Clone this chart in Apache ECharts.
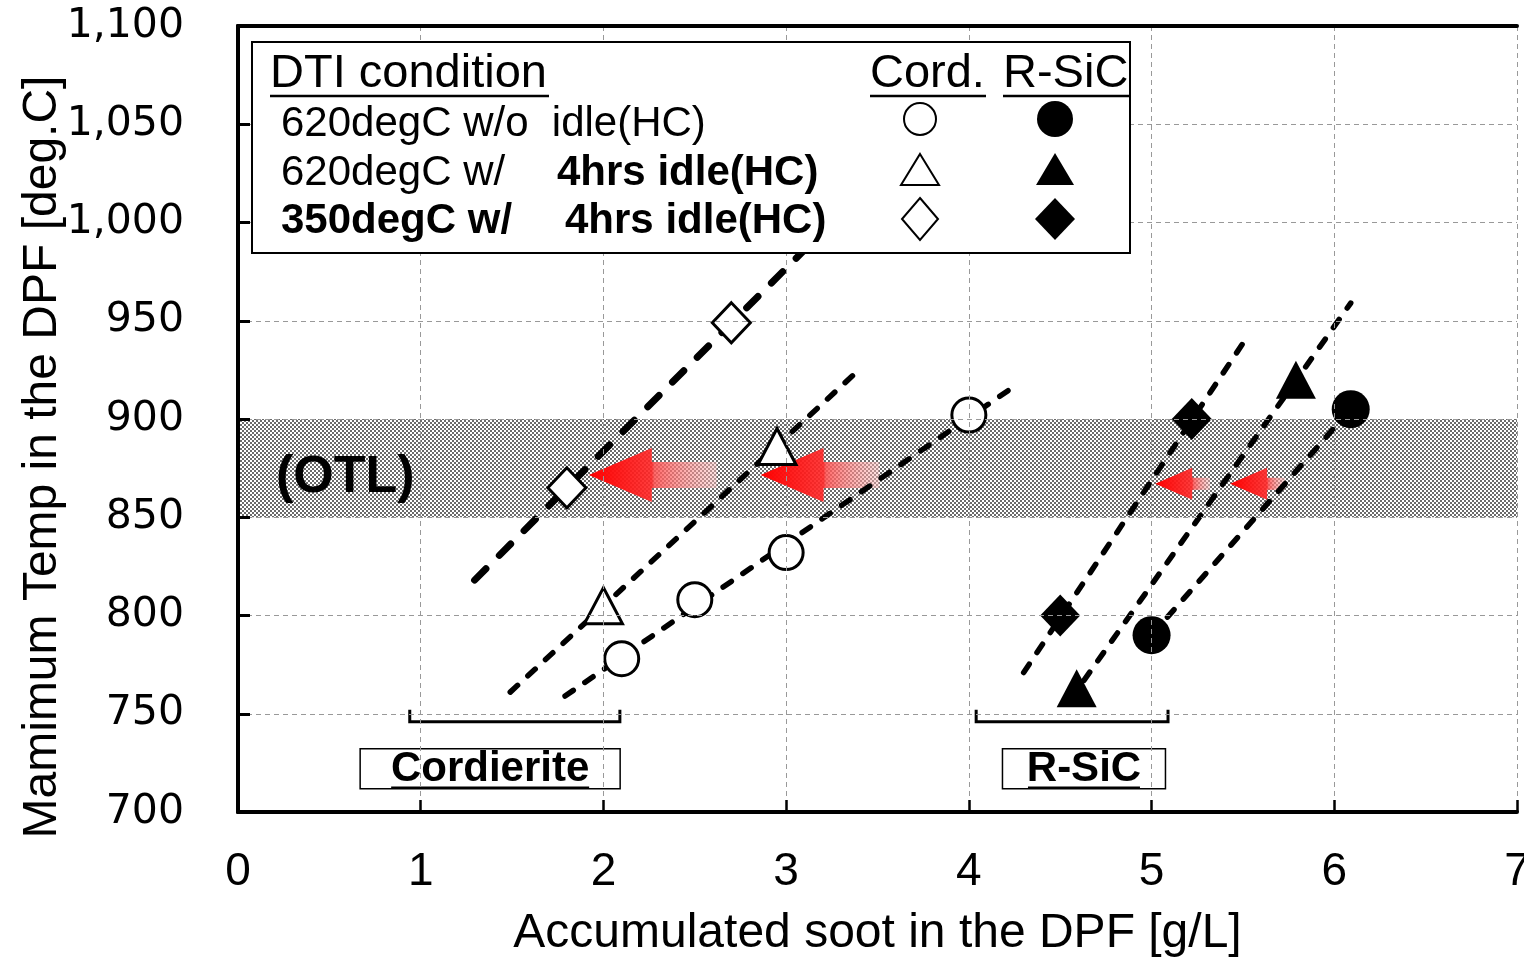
<!DOCTYPE html>
<html>
<head>
<meta charset="utf-8">
<title>Maximum DPF temperature vs accumulated soot</title>
<script src="https://cdn.jsdelivr.net/npm/echarts@6.0.0/dist/echarts.min.js"></script>
<style>
  html, body { margin: 0; padding: 0; background: #fff; overflow: hidden; }
  #chart { width: 1524px; height: 957px; }
</style>
</head>
<body>
<div id="chart"></div>
<script>
// measured points [soot g/L, max temp degC]
const cordCircle = [[2.1, 778], [2.5, 808], [3.0, 832], [4.0, 902]]
const cordTriangle = [[2.0, 805], [2.95, 886]]
const cordDiamond = [[1.8, 865], [2.7, 949]]
const sicCircle = [[5.0, 790], [6.09, 905]]
const sicTriangle = [[4.59, 763], [5.79, 920]]
const sicDiamond = [[4.5, 800], [5.22, 900]]

// dashed trend lines (end points)
const cordCircleFit = [[1.79, 759], [4.27, 918]]
const cordTriangleFit = [[1.49, 761], [3.41, 926]]
const cordDiamondFit = [[1.295, 818], [3.25, 1000]]
const sicCircleFit = [[5.0, 790], [6.09, 905]]
const sicTriangleFit = [[4.63, 767], [6.09, 959]]
const sicDiamondFit = [[4.3, 771], [5.525, 942]]

// OTL band
const otlBand = [850, 900]

// red arrows [tip x, temp, tail x]
const bigArrows = [[1.92, 871.5, 2.62], [2.86, 871.5, 3.51]]
const smallArrows = [[5.02, 867, 5.32], [5.43, 867, 5.73]]

// material groups under the curves
const groupNames = ['Cordierite', 'R-SiC']
const groupSpans = [[0.94, 2.09], [4.04, 5.09]]
const groupCenters = [1.38, 4.63]
const groupLevel = 750

const FONT = 'Liberation Sans, Arial, sans-serif'

// dotted screen for the OTL band
const tile = document.createElement('canvas')
tile.width = 4
tile.height = 4
const tg = tile.getContext('2d')
tg.fillStyle = '#ffffff'
tg.fillRect(0, 0, 4, 4)
tg.fillStyle = '#6a6a6a'
tg.fillRect(0, 0, 2, 2)
tg.fillRect(2, 2, 2, 2)

const myChart = echarts.init(document.getElementById('chart'))

function fitLine(name, data, width, dash) {
  return {
    name: name,
    type: 'line',
    data: data,
    symbol: 'none',
    silent: true,
    z: 3,
    lineStyle: { color: '#000', width: width, type: dash, cap: 'round' }
  }
}

function marks(name, data, symbol, size, filled) {
  return {
    name: name,
    type: 'scatter',
    data: data,
    symbol: symbol,
    symbolSize: size,
    z: 4,
    itemStyle: filled
      ? { color: '#000', opacity: 1 }
      : { color: '#fff', borderColor: '#000', borderWidth: 3, opacity: 1 }
  }
}

function arrows(name, data, head, headHalf, shaftHalf) {
  return {
    name: name,
    type: 'custom',
    data: data,
    silent: true,
    z: 2,
    renderItem: function (params, api) {
      const tip = api.coord([api.value(0), api.value(1)])
      const tail = api.coord([api.value(2), api.value(1)])
      const hx = tip[0] + head
      const y = tip[1]
      const f = head / (tail[0] - tip[0])
      return {
        type: 'polygon',
        shape: {
          points: [
            [tip[0], y], [hx, y - headHalf], [hx, y - shaftHalf], [tail[0], y - shaftHalf],
            [tail[0], y + shaftHalf], [hx, y + shaftHalf], [hx, y + headHalf]
          ]
        },
        style: {
          fill: new echarts.graphic.LinearGradient(0, 0, 1, 0, [
            { offset: 0, color: 'rgba(255,0,0,1)' },
            { offset: f, color: 'rgba(255,40,40,0.9)' },
            { offset: f + 0.02, color: 'rgba(255,80,80,0.85)' },
            { offset: 1, color: 'rgba(255,190,190,0.45)' }
          ])
        }
      }
    }
  }
}

const boxWidth = { 'Cordierite': 260, 'R-SiC': 163 }
const textWidth = { 'Cordierite': 198, 'R-SiC': 112 }

// legend (drawn on top of the plot)
function legendItems() {
  const t = (x, y, text, bold, size) => ({
    type: 'text',
    z: 101,
    style: { x: x, y: y, text: text, font: (bold ? 'bold ' : '') + size + 'px ' + FONT, fill: '#000', verticalAlign: 'middle' }
  })
  const u = (x1, x2) => ({ type: 'line', z: 101, shape: { x1: x1, y1: 96, x2: x2, y2: 96 }, style: { stroke: '#000', lineWidth: 2.5 } })
  const open = { fill: '#fff', stroke: '#000', lineWidth: 2 }
  const full = { fill: '#000' }
  return [
    { type: 'rect', z: 100, shape: { x: 252, y: 42, width: 878, height: 211 }, style: { fill: '#fff', stroke: '#000', lineWidth: 2 } },
    t(270, 74, 'DTI condition', false, 47),
    t(870, 74, 'Cord.', false, 47),
    t(1003, 74, 'R-SiC', false, 47),
    u(270, 549), u(870, 986), u(1003, 1129),
    t(281, 124, '620degC w/o  idle(HC)', false, 42),
    t(281, 173, '620degC w/', false, 42),
    t(557, 173, '4hrs idle(HC)', true, 42),
    t(281, 221, '350degC w/', true, 42),
    t(565, 221, '4hrs idle(HC)', true, 42),
    { type: 'circle', z: 101, shape: { cx: 920, cy: 119, r: 16 }, style: open },
    { type: 'circle', z: 101, shape: { cx: 1055, cy: 119, r: 18 }, style: full },
    { type: 'polygon', z: 101, shape: { points: [[920, 154], [939, 185], [901, 185]] }, style: open },
    { type: 'polygon', z: 101, shape: { points: [[1055, 153], [1074, 185], [1036, 185]] }, style: full },
    { type: 'polygon', z: 101, shape: { points: [[920, 198], [938, 219], [920, 240], [902, 219]] }, style: open },
    { type: 'polygon', z: 101, shape: { points: [[1055, 198], [1075, 219], [1055, 240], [1035, 219]] }, style: full }
  ]
}

var option = {
  animation: false,
  backgroundColor: '#fff',
  grid: { left: 238, right: 7, top: 26, bottom: 145, outerBoundsMode: 'none' },
  xAxis: [
    {
      type: 'value',
      min: 0,
      max: 7,
      interval: 1,
      z: 10,
      name: 'Accumulated soot in the DPF [g/L]',
      nameLocation: 'middle',
      nameGap: 98,
      nameTextStyle: { fontFamily: FONT, fontSize: 48, color: '#000' },
      axisLine: { lineStyle: { color: '#000', width: 4 } },
      axisTick: { inside: true, length: 12, lineStyle: { color: '#000', width: 2.5 } },
      axisLabel: { margin: 37, fontFamily: FONT, fontSize: 46, color: '#000' },
      splitLine: { lineStyle: { color: '#999', width: 1, type: [5, 4] } }
    },
    {
      type: 'value', position: 'top', min: 0, max: 7, z: 10,
      axisLine: { lineStyle: { color: '#000', width: 4 } },
      axisTick: { show: false }, axisLabel: { show: false }, splitLine: { show: false }
    }
  ],
  yAxis: [
    {
      type: 'value',
      min: 700,
      max: 1100,
      interval: 50,
      z: 10,
      axisLine: { show: true, lineStyle: { color: '#000', width: 4 } },
      axisTick: { show: true, inside: true, length: 12, lineStyle: { color: '#000', width: 3 } },
      axisLabel: {
        margin: 54,
        fontFamily: 'DejaVu Sans, sans-serif',
        fontSize: 41,
        color: '#000',
        formatter: function (v) { return v.toLocaleString('en-US') }
      },
      splitLine: { lineStyle: { color: '#999', width: 1, type: [5, 4] } }
    },
    {
      type: 'value', position: 'right', min: 700, max: 1100, z: 10,
      axisLine: { show: true, lineStyle: { color: '#000', width: 4 } },
      axisTick: { show: false }, axisLabel: { show: false }, splitLine: { show: false }
    }
  ],
  series: [
    {
      name: 'OTL',
      type: 'line',
      data: [],
      z: 1,
      markArea: {
        silent: true,
        itemStyle: { color: { image: tile, repeat: 'repeat' } },
        label: {
          show: true,
          position: 'insideLeft',
          distance: 38,
          offset: [0, 10],
          formatter: '(OTL)',
          fontFamily: FONT,
          fontWeight: 'bold',
          fontSize: 52,
          color: '#000'
        },
        data: [[{ yAxis: otlBand[0] }, { yAxis: otlBand[1] }]]
      }
    },
    arrows('arrows-cord', bigArrows, 63, 27, 13),
    arrows('arrows-sic', smallArrows, 37, 16, 6),
    fitLine('fit-cord-circle', cordCircleFit, 5.5, [10, 14]),
    fitLine('fit-cord-triangle', cordTriangleFit, 5.5, [10, 14]),
    fitLine('fit-cord-diamond', cordDiamondFit, 7, [16, 19]),
    fitLine('fit-sic-circle', sicCircleFit, 5.5, [10, 14]),
    fitLine('fit-sic-triangle', sicTriangleFit, 5.5, [10, 14]),
    fitLine('fit-sic-diamond', sicDiamondFit, 5.5, [10, 14]),
    marks('Cord. 620degC w/o idle', cordCircle, 'circle', 34, false),
    marks('Cord. 620degC w/ 4hrs idle', cordTriangle, 'triangle', [38, 36], false),
    marks('Cord. 350degC w/ 4hrs idle', cordDiamond, 'diamond', [38, 40], false),
    marks('R-SiC 620degC w/o idle', sicCircle, 'circle', 38, true),
    marks('R-SiC 620degC w/ 4hrs idle', sicTriangle, 'triangle', [40, 38], true),
    marks('R-SiC 350degC w/ 4hrs idle', sicDiamond, 'diamond', [40, 42], true),
    {
      name: 'groups',
      type: 'custom',
      silent: true,
      z: 5,
      data: groupNames.map((n, i) => [groupSpans[i][0], groupSpans[i][1], groupCenters[i], groupLevel]),
      renderItem: function (params, api) {
        const label = groupNames[params.dataIndex]
        const a = api.coord([api.value(0), api.value(3)])
        const b = api.coord([api.value(1), api.value(3)])
        const c = api.coord([api.value(2), api.value(3)])
        const w = boxWidth[label]
        const tw = textWidth[label]
        const boxTop = a[1] + 35
        return {
          type: 'group',
          children: [
            {
              type: 'polyline',
              shape: { points: [[a[0], a[1] - 4], [a[0], a[1] + 8], [b[0], a[1] + 8], [b[0], a[1] - 4]] },
              style: { stroke: '#000', lineWidth: 3, fill: null }
            },
            {
              type: 'rect',
              shape: { x: c[0] - w / 2, y: boxTop, width: w, height: 40 },
              style: { fill: '#fff', stroke: '#000', lineWidth: 1.5 }
            },
            {
              type: 'text',
              style: {
                x: c[0], y: boxTop + 21, text: label, align: 'center', verticalAlign: 'middle',
                font: 'bold 42px ' + FONT, fill: '#000'
              }
            },
            {
              type: 'line',
              shape: { x1: c[0] - tw / 2, y1: boxTop + 39, x2: c[0] + tw / 2, y2: boxTop + 39 },
              style: { stroke: '#000', lineWidth: 2.5 }
            }
          ]
        }
      }
    }
  ],
  graphic: {
    elements: [
      {
        type: 'text',
        x: 43,
        y: 457,
        rotation: Math.PI / 2,
        style: {
          text: 'Mamimum Temp in the DPF [deg.C]',
          font: '48px ' + FONT, fill: '#000', align: 'center', verticalAlign: 'middle'
        }
      }
    ].concat(legendItems())
  }
}

window.onresize = myChart.resize
myChart.setOption(option)
</script>
</body>
</html>
